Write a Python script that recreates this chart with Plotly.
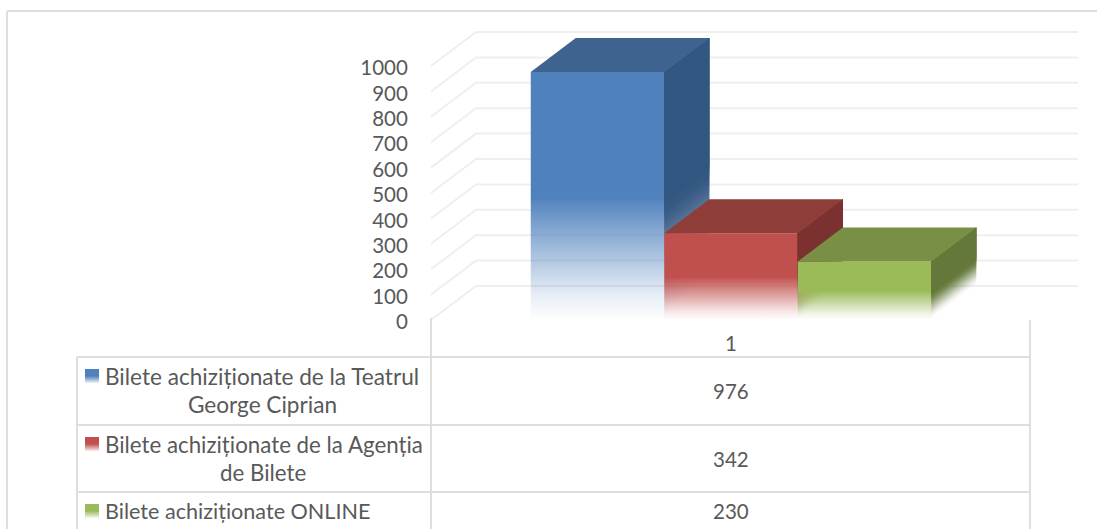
import plotly.graph_objects as go

# ---- data ----
series_names = ["Bilete achiziționate de la Teatrul<br>George Ciprian",
                "Bilete achiziționate de la Agenția<br>de Bilete",
                "Bilete achiziționate ONLINE"]
series_values = [976, 342, 230]
category = "1"
y_ticks = [0, 100, 200, 300, 400, 500, 600, 700, 800, 900, 1000]

# ---- styles ----
FRONT = [(79, 129, 189), (192, 80, 77), (155, 187, 89)]
TOP = [(62, 99, 143), (143, 61, 57), (120, 143, 69)]
SIDE = [(50, 87, 128), (123, 49, 47), (100, 120, 58)]
GRID = "#EFEFEF"
RULE = "#DEDEDE"
TEXT = "#595959"
FONT = "Lato"
FS = 20.5
FS_KEY = [22.6, 22.3, 21.6]
W, H = 1097, 529

# plot-area geometry in pixels
PX_L, PX_R, PX_B, PX_T = 431, 1078, 320, 30
CAT_PX = 599.0          # width of the category band
UNIT_PX = 0.254         # pixels per value unit
DEPTH_X = 45 / CAT_PX   # depth offset in x axis units
DEPTH_Y = 34 / UNIT_PX  # depth offset in y axis units
BAR_W = 133.5 / CAT_PX
FADE = 0.49             # fraction of bar height that fades out
N = 32


def rgba(c, a):
    return f"rgba({c[0]},{c[1]},{c[2]},{a:.4f})"


fig = go.Figure()
X_MIN = 0.5
X_MAX = X_MIN + (PX_R - PX_L) / CAT_PX
Y_MAX = (PX_B - PX_T) / UNIT_PX

# ---- floor-to-wall gridlines ----
for t in y_ticks:
    fig.add_trace(go.Scatter(
        x=[X_MIN, X_MIN + DEPTH_X, X_MAX], y=[t, t + DEPTH_Y, t + DEPTH_Y],
        mode="lines", line=dict(color=GRID, width=2),
        hoverinfo="skip", showlegend=False, cliponaxis=False))

# ---- bars ----
total_w = BAR_W * len(series_values)
for i, v in enumerate(series_values):
    x0 = 1.0 - total_w / 2 + i * BAR_W + 0.5 / CAT_PX
    x1 = x0 + BAR_W
    # front face
    fig.add_trace(go.Scatter(
        x=[x0, x1, x1, x0, x0], y=[0, 0, v, v, 0], mode="lines",
        line=dict(width=0), fill="toself", hoverinfo="skip", showlegend=False,
        fillgradient=dict(type="vertical", colorscale=[
            [0, rgba(FRONT[i], 0.0)], [0.1, rgba(FRONT[i], 0.14)],
            [FADE * 0.97, rgba(FRONT[i], 0.94)], [FADE, rgba(FRONT[i], 1)],
            [1, rgba(FRONT[i], 1)]])))
    # side face: nested sheared polygons build the fade with no seams
    fade_h = v * FADE
    covered = 1.0
    for k in range(N):
        a0 = fade_h * k / N
        f = (k + 0.5) / N
        target = f * f * (3 - 2 * f)
        step = 1 - (1 - target) / covered
        covered = 1 - target
        fig.add_trace(go.Scatter(
            x=[x1, x1 + DEPTH_X, x1 + DEPTH_X, x1, x1],
            y=[a0, a0 + DEPTH_Y, v + DEPTH_Y, v, a0],
            mode="lines", line=dict(width=0), fill="toself",
            fillcolor=rgba(SIDE[i], step), hoverinfo="skip", showlegend=False))
    fig.add_trace(go.Scatter(
        x=[x1, x1 + DEPTH_X, x1 + DEPTH_X, x1, x1],
        y=[fade_h, fade_h + DEPTH_Y, v + DEPTH_Y, v, fade_h],
        mode="lines", line=dict(width=0), fill="toself",
        fillcolor=rgba(SIDE[i], 1), hoverinfo="skip", showlegend=False))
    # top face
    fig.add_trace(go.Scatter(
        x=[x0, x1, x1 + DEPTH_X, x0 + DEPTH_X, x0],
        y=[v, v, v + DEPTH_Y, v + DEPTH_Y, v],
        mode="lines", line=dict(width=0), fill="toself",
        fillcolor=rgba(TOP[i], 1), hoverinfo="skip", showlegend=False))

# ---- legend keys in the data table (page-pixel axes) ----
key_tops = [369, 437, 504]
for i, (name, ky) in enumerate(zip(series_names, key_tops)):
    fig.add_trace(go.Scatter(
        x=[85, 99, 99, 85, 85], y=[ky + 14, ky + 14, ky, ky, ky + 14],
        xaxis="x2", yaxis="y2", mode="lines", line=dict(width=0), fill="toself",
        hoverinfo="skip", showlegend=False,
        fillgradient=dict(type="vertical", colorscale=[
            [0, rgba(FRONT[i], 0.1)], [0.5, rgba(FRONT[i], 1)], [1, rgba(FRONT[i], 1)]])))

# ---- data-table rules and frame ----
shapes = []


def rule(x0, y0, x1, y1):
    shapes.append(dict(type="line", xref="x2", yref="y2", x0=x0, y0=y0, x1=x1, y1=y1,
                       line=dict(color=RULE, width=2), layer="below"))


rule(7, 11, 7, H)
rule(7, 11, W, 11)
rule(431, 318, 431, H)
rule(1030, 320, 1030, H)
rule(77, 357, 77, H)
for yy in (357, 425, 492):
    rule(77, yy, 1030, yy)

# ---- table texts ----
ann = []


def text(x, y, s, size=FS):
    ann.append(dict(xref="x2", yref="y2", x=x, y=y, text=s, showarrow=False,
                    xanchor="center", yanchor="middle",
                    font=dict(family=FONT, size=size, color=TEXT)))


text(730.5, 343, category)
for v, y in zip(series_values, (391, 459, 511)):
    text(730.5, y, str(v))
line_pos = [[(261.5, 376), (262, 404)], [(263.5, 444), (263, 472)], [(237.5, 511)]]
for name, pos, size in zip(series_names, line_pos, FS_KEY):
    for part, (x, y) in zip(name.split("<br>"), pos):
        text(x, y, part, size)

fig.update_layout(
    width=W, height=H, margin=dict(l=0, r=0, t=0, b=0, autoexpand=False),
    paper_bgcolor="white", plot_bgcolor="rgba(0,0,0,0)", showlegend=False,
    font=dict(family=FONT, size=FS, color=TEXT),
    shapes=shapes, annotations=ann,
    xaxis=dict(domain=[PX_L / W, PX_R / W], range=[X_MIN, X_MAX], visible=False, fixedrange=True),
    yaxis=dict(domain=[(H - PX_B) / H, (H - PX_T) / H], range=[0, Y_MAX],
               tickvals=y_ticks, ticktext=[str(t) for t in y_ticks],
               ticks="outside", ticklen=18, tickcolor="rgba(0,0,0,0)",
               ticklabelshift=2,
               showgrid=False, zeroline=False, showline=False, fixedrange=True,
               automargin=False,
               tickfont=dict(family=FONT, size=FS, color=TEXT)),
    xaxis2=dict(domain=[0, 1], range=[0, W], visible=False, anchor="y2", fixedrange=True, automargin=False),
    yaxis2=dict(domain=[0, 1], range=[H, 0], visible=False, anchor="x2", fixedrange=True, automargin=False),
)
fig.write_html("out.html", config=dict(displayModeBar=False),
               post_script="document.body.style.margin='0';document.body.style.overflow='hidden';")
